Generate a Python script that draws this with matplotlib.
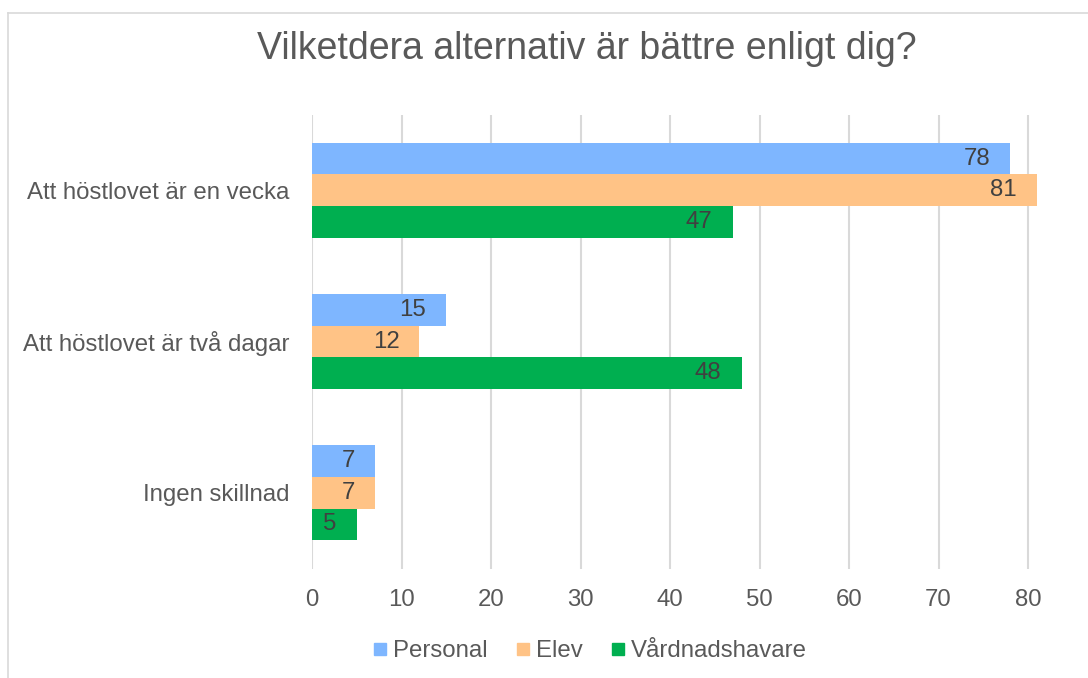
import matplotlib
matplotlib.use("Agg")
import matplotlib.pyplot as plt
from matplotlib.lines import Line2D
import numpy as np

categories = ["Att höstlovet är en vecka", "Att höstlovet är två dagar", "Ingen skillnad"]
series_names = ["Personal", "Elev", "Vårdnadshavare"]
personal = [78, 15, 7]
elev = [81, 12, 7]
vardnad = [47, 48, 5]
xticks = [0, 10, 20, 30, 40, 50, 60, 70, 80]
title = "Vilketdera alternativ är bättre enligt dig?"

colors = ["#7EB6FF", "#FFC386", "#00AF50"]
txt = "#595959"

plt.rcParams['font.family'] = ['Liberation Sans', 'DejaVu Sans']

W, H = 1088, 678
px10 = (1028 - 312) / 8.0  # pixels per 10 units
xmax = 82
right_px = 312 + px10 * xmax / 10
fig = plt.figure(figsize=(W / 100, H / 100), dpi=100)
ax = fig.add_axes([312 / W, 1 - 568.5 / H, (right_px - 312) / W, (568.5 - 114.5) / H])

fs = 17.3
y = np.arange(len(categories))
bh = 0.209
for i, (vals, name, c) in enumerate(zip([personal, elev, vardnad], series_names, colors)):
    pos = y + (i - 1) * bh
    bars = ax.barh(pos, vals, height=bh, color=c, label=name, zorder=3)
    for b, v in zip(bars, vals):
        ax.annotate(str(v), (v, b.get_y() + b.get_height() / 2), xytext=(-20, 0),
                    textcoords="offset pixels",
                    ha="right", va="center", fontsize=fs, color="#404040", zorder=4)

ax.set_xlim(0, xmax)
ax.set_ylim(2.5, -0.5)
ax.set_xticks(xticks)
ax.set_xticklabels([str(t) for t in xticks], fontsize=fs, color=txt)
ax.set_yticks(y)
ax.set_yticklabels(categories, fontsize=fs, color=txt)
ax.tick_params(axis="both", length=0)
ax.tick_params(axis="x", pad=15)
ax.tick_params(axis="y", pad=16)
ax.grid(axis="x", color="#D9D9D9", linewidth=1.5, zorder=0)
for s in ax.spines.values():
    s.set_visible(False)

fig.text(587 / W, 1 - 49 / H, title, ha="center", va="center", fontsize=27, color=txt)

handles = [Line2D([], [], marker="s", linestyle="none", markersize=9, color=c) for c in colors]
fig.legend(handles, series_names, loc="center", bbox_to_anchor=(588 / W, 1 - 651 / H),
           ncol=3, frameon=False, fontsize=fs, labelcolor=txt, handletextpad=0.1,
           columnspacing=1.0, handlelength=0.9)

# chart border (top and left visible)
fig.add_artist(Line2D([8 / W, 1], [1 - 13 / H, 1 - 13 / H], color="#D9D9D9", linewidth=1.2, transform=fig.transFigure))
fig.add_artist(Line2D([8 / W, 8 / W], [0, 1 - 13 / H], color="#D9D9D9", linewidth=1.2, transform=fig.transFigure))

fig.savefig("out.png", dpi=100)
